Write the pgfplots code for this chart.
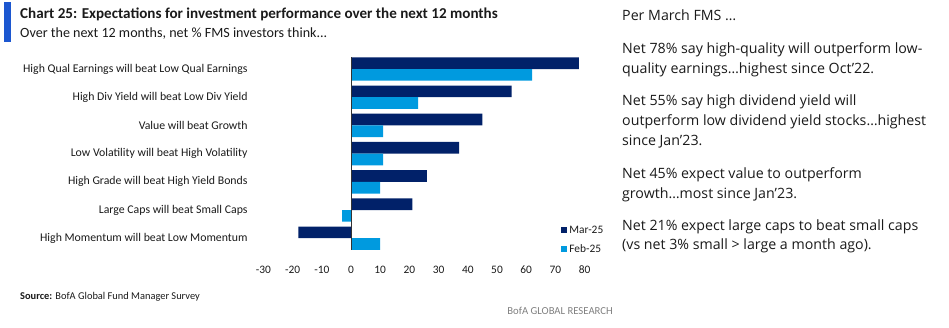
\documentclass[border=0pt]{standalone}
\usepackage{fontspec}
\setmainfont{Carlito}
\newfontfamily\osans{Open Sans}
\usepackage{pgfplots}
\pgfplotsset{compat=1.18}
\definecolor{marc}{HTML}{012169}
\definecolor{febc}{HTML}{009ADF}
\definecolor{titleblue}{HTML}{1C57D0}
\definecolor{txt}{HTML}{1A1A1A}
\begin{document}
\begin{tikzpicture}
\useasboundingbox (0,0) rectangle (949bp,-328bp);
\fill[titleblue] (4bp,-2bp) rectangle (11bp,-42bp);
\node[anchor=base west, inner sep=0pt, font=\fontsize{15.1bp}{17bp}\selectfont\bfseries, text=txt] at (20bp,-18.5bp) {Chart 25: Expectations for investment performance over the next 12 months};
\node[anchor=base west, inner sep=0pt, font=\fontsize{14.1bp}{16bp}\selectfont, text=txt] at (20bp,-37bp) {Over the next 12 months, net \% FMS investors think...};
\begin{axis}[
 at={(263.4bp,-249.9bp)}, anchor=south west,
 scale only axis, width=321.2bp, height=192.6bp,
 xmin=-30, xmax=80, ymin=-0.415, ymax=6.415,
 xbar, bar width=11.7bp,
 axis line style={draw=none}, tick style={draw=none},
 xtick={-30,-20,...,80},
 xticklabels={-30,-20,-10,0,10,20,30,40,50,60,70,80},
 ytick={0,...,6},
 yticklabels={High Momentum will beat Low Momentum, Large Caps will beat Small Caps, High Grade will beat High Yield Bonds, Low Volatility will beat High Volatility, Value will beat Growth, High Div Yield will beat Low Div Yield, High Qual Earnings will beat Low Qual Earnings},
 ticklabel style={font=\fontsize{11.4bp}{13bp}\selectfont, text=txt},
 yticklabel style={inner sep=0pt, anchor=east, xshift=-11.4bp, font=\fontsize{11.8bp}{13bp}\selectfont},
 xticklabel style={inner sep=0pt, anchor=north, yshift=-16bp},
 legend style={draw=none, fill=none, at={(0.9256,0.127)}, anchor=north west, font=\fontsize{11.4bp}{13bp}\selectfont, inner sep=0pt, row sep=10bp, nodes={inner sep=0pt, text=txt}, /tikz/every odd column/.append style={column sep=2.5bp}},
 legend cell align=left,
 legend image code/.code={\fill[#1] (0bp,-3bp) rectangle (6bp,3bp);},
]
\addplot[fill=marc, draw=none, bar shift=5.85bp] coordinates {(-18,0) (21,1) (26,2) (37,3) (45,4) (55,5) (78,6)};
\addplot[fill=febc, draw=none, bar shift=-5.85bp] coordinates {(10,0) (-3,1) (10,2) (11,3) (11,4) (23,5) (62,6)};
\legend{Mar-25,Feb-25}
\draw[black!80, line width=0.8bp] (axis cs:0,-0.43) -- (axis cs:0,6.43);
\end{axis}
\node[anchor=base west, inner sep=0pt, font=\fontsize{10.4bp}{12bp}\selectfont, text=txt] at (20bp,-299.5bp) {\textbf{Source:} BofA Global Fund Manager Survey};
\node[anchor=base east, inner sep=0pt, font=\fontsize{10.7bp}{12bp}\selectfont, text=gray] at (613bp,-314bp) {BofA GLOBAL RESEARCH};
\begin{scope}[every node/.style={anchor=base west, inner sep=0pt, font=\osans\fontsize{14.2bp}{16bp}\selectfont, text=txt}]
\node at (622bp,-20bp) {Per March FMS …};
\node at (622bp,-53bp) {Net 78\% say high-quality will outperform low-};
\node at (622bp,-73bp) {quality earnings…highest since Oct’22.};
\node at (622bp,-105bp) {Net 55\% say high dividend yield will};
\node at (622bp,-125bp) {outperform low dividend yield stocks…highest};
\node at (622bp,-145bp) {since Jan’23.};
\node at (622bp,-178bp) {Net 45\% expect value to outperform};
\node at (622bp,-198bp) {growth…most since Jan’23.};
\node at (622bp,-230.5bp) {Net 21\% expect large caps to beat small caps};
\node at (622bp,-249.5bp) {(vs net 3\% small > large a month ago).};
\end{scope}
\end{tikzpicture}
\end{document}
